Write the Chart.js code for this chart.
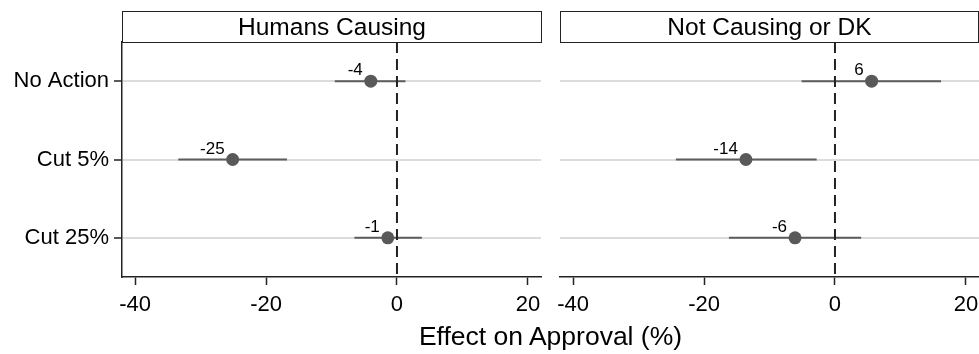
<!DOCTYPE html>
<html>
<head>
<meta charset="utf-8">
<script src="https://cdn.jsdelivr.net/npm/chart.js@4.4.1/dist/chart.umd.min.js"></script>
<style>
  body { margin: 0; background: #fff; font-family: 'Liberation Sans', Arial, sans-serif; }
  #wrap { position: relative; width: 979px; height: 354px; overflow: hidden; }
  canvas { position: absolute; top: 0; }
  .head {
    position: absolute; top: 11px; height: 32px; box-sizing: border-box;
    border: 1px solid #222; text-align: center; font-size: 24.5px; line-height: 29px; color: #000;
  }
  #xtitle { position: absolute; left: 122px; width: 857px; top: 321px; text-align: center; font-size: 26.5px; line-height: 30px; color: #000; }
</style>
</head>
<body>
<div id="wrap">
  <canvas id="left" width="550" height="354" style="left:0"></canvas>
  <canvas id="right" width="429" height="354" style="left:550px"></canvas>
  <div class="head" style="left:122px;width:420px">Humans Causing</div>
  <div class="head" style="left:560px;width:419px">Not Causing or DK</div>
  <div id="xtitle">Effect on Approval (%)</div>
</div>
<script>
// данные
const categories = ['No Action', 'Cut 5%', 'Cut 25%'];
const xTicks = [-40, -20, 0, 20];
const xMin = -42, xMax = 22;

const humansEst = [-4.0, -25.1, -1.4];
const humansLow = [-9.5, -33.4, -6.5];
const humansHigh = [1.3, -16.8, 3.8];
const humansLabels = ['-4', '-25', '-1'];

const otherEst = [5.6, -13.6, -6.1];
const otherLow = [-5.1, -24.3, -16.2];
const otherHigh = [16.2, -2.8, 4.0];
const otherLabels = ['6', '-14', '-6'];

const fontFamily = "'Liberation Sans', Arial, sans-serif";

// горизонтальные доверительные интервалы и подписи точек
const ciPlugin = {
    id: 'ciPlugin',
    beforeDatasetsDraw(chart, args, opts) {
        const ctx = chart.ctx, xs = chart.scales.x, ys = chart.scales.y;
        ctx.save();
        ctx.strokeStyle = '#5c5c5c';
        ctx.lineWidth = 2;
        opts.low.forEach((lo, i) => {
            const y = ys.getPixelForValue(i + 1);
            ctx.beginPath();
            ctx.moveTo(xs.getPixelForValue(lo), y);
            ctx.lineTo(xs.getPixelForValue(opts.high[i]), y);
            ctx.stroke();
        });
        ctx.restore();
    },
    afterDatasetsDraw(chart, args, opts) {
        const ctx = chart.ctx, xs = chart.scales.x, ys = chart.scales.y;
        ctx.save();
        ctx.fillStyle = '#000';
        ctx.font = '17px ' + fontFamily;
        ctx.textAlign = 'right';
        ctx.textBaseline = 'alphabetic';
        opts.est.forEach((v, i) => {
            ctx.fillText(opts.labels[i], xs.getPixelForValue(v) - 8, ys.getPixelForValue(i + 1) - 6);
        });
        ctx.restore();
    }
};

function makePanel(id, est, low, high, labels, showY) {
    return new Chart(document.getElementById(id), {
        type: 'scatter',
        data: {
            datasets: [
                {
                    data: est.map((v, i) => ({ x: v, y: i + 1 })),
                    backgroundColor: '#595959',
                    borderWidth: 0,
                    pointRadius: 6.5,
                    order: 0
                },
                {
                    type: 'line',
                    data: [{ x: 0, y: 0.5 }, { x: 0, y: 3.5 }],
                    borderColor: '#222',
                    borderWidth: 2,
                    borderDash: [11, 6],
                    pointRadius: 0,
                    order: 1
                }
            ]
        },
        options: {
            responsive: false,
            animation: false,
            events: [],
            layout: { autoPadding: false, padding: { top: 42, right: showY ? 9 : 0, left: 0, bottom: 31 } },
            plugins: {
                legend: { display: false },
                tooltip: { enabled: false },
                ciPlugin: { est: est, low: low, high: high, labels: labels }
            },
            scales: {
                x: {
                    type: 'linear', min: xMin, max: xMax,
                    afterBuildTicks: s => { s.ticks = xTicks.map(v => ({ value: v })); },
                    grid: { drawOnChartArea: false, tickLength: 8, tickColor: '#222', tickWidth: 1.5 },
                    border: { color: '#222', width: 1.5 },
                    ticks: { color: '#000', font: { size: 22, family: fontFamily }, padding: 7, maxRotation: 0 },
                    afterFit: s => { s.height = 46; s.paddingLeft = 0; s.paddingRight = 0; }
                },
                y: {
                    type: 'linear', min: 0.5, max: 3.5, reverse: true,
                    afterBuildTicks: s => { s.ticks = [1, 2, 3].map(v => ({ value: v })); },
                    grid: { color: '#dcdcdc', lineWidth: 2, drawTicks: showY, tickLength: 8, tickColor: '#222', tickWidth: 1.5 },
                    border: { display: showY, color: '#222', width: 1.5 },
                    ticks: {
                        display: showY, color: '#000', padding: 5,
                        font: { size: 22, family: fontFamily },
                        callback: v => categories[v - 1]
                    },
                    afterFit: s => { s.width = showY ? 122 : 10; }
                }
            }
        },
        plugins: [ciPlugin]
    });
}

makePanel('left', humansEst, humansLow, humansHigh, humansLabels, true);
makePanel('right', otherEst, otherLow, otherHigh, otherLabels, false);
</script>
</body>
</html>
